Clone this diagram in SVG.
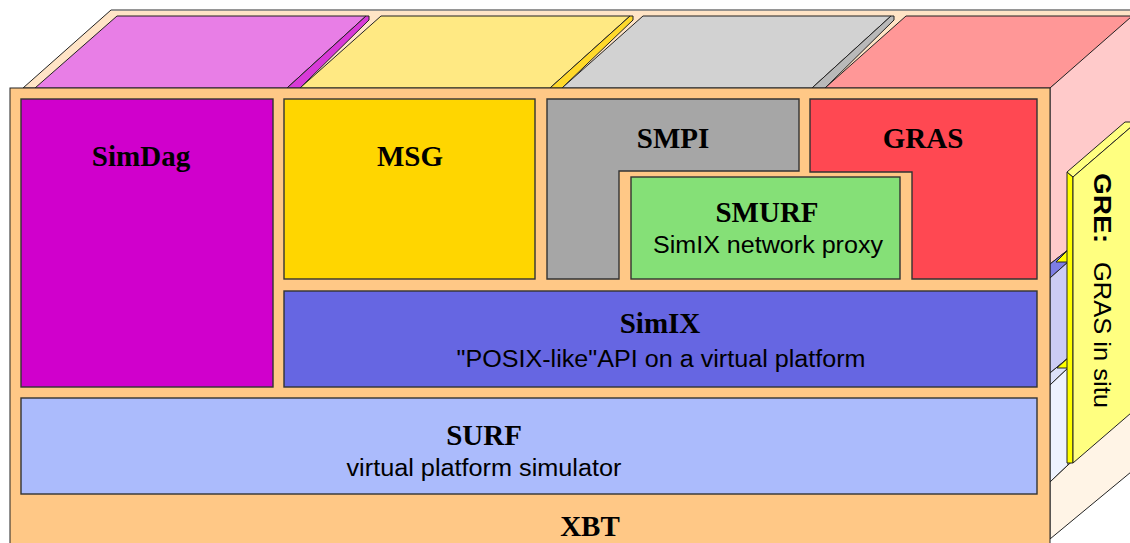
<svg xmlns="http://www.w3.org/2000/svg" width="1130" height="543" viewBox="0 0 1130 543">
  <style>
    .edge { stroke: #222; stroke-width: 1; stroke-linejoin: miter; }
    .box { stroke: #333; stroke-width: 1.4; }
    .title { font-family: "Liberation Serif", "Times New Roman", serif; font-weight: bold; font-size: 29px; fill: #000; text-anchor: middle; }
    .sub { font-family: "Liberation Sans", Arial, sans-serif; font-size: 23px; fill: #000; text-anchor: middle; }
    .gre { font-family: "Liberation Sans", Arial, sans-serif; font-size: 24px; fill: #000; }
  </style>

  <rect width="1130" height="543" fill="#ffffff"/>

  <!-- top of the stack: background slab -->
  <g id="top-face">
    <polygon points="23,88 111,10 1139,10 1050,88" fill="#FFE4C6" class="edge"/>
    <line x1="111" y1="10" x2="1130" y2="10" stroke="#999" stroke-width="1.5"/>
  </g>

  <!-- raised tops of the upper-level columns -->
  <g id="top-simdag">
    <polygon points="35,88 117,16 366,16 287,88" fill="#E87EE6" class="edge"/>
    <polygon points="287,88 366,16 369,16 369,20 300,88" fill="#D83AD8" class="edge"/>
  </g>
  <g id="top-msg">
    <polygon points="300,88 381,16 630,16 550,88" fill="#FFE983" class="edge"/>
    <polygon points="550,88 630,16 633,16 633,20 562,88" fill="#FFD92B" class="edge"/>
  </g>
  <g id="top-smpi">
    <polygon points="562,88 643,16 891,16 812,88" fill="#D2D2D2" class="edge"/>
    <polygon points="812,88 891,16 894,16 894,20 825,88" fill="#B9B9B9" class="edge"/>
  </g>
  <g id="top-gras">
    <polygon points="825,88 906,16 1140,16 1050,88" fill="#FF9797" class="edge"/>
  </g>

  <!-- right-hand side faces of the layers -->
  <g id="side-faces">
    <polygon points="1050,88 1131,17 1131,200 1050,264" fill="#FFCACA" class="edge"/>
    <polygon points="1050,264 1068,250 1068,262 1050,278" fill="#7D7DE4" class="edge"/>
    <polygon points="1050,278 1068,262 1068,358 1050,373" fill="#CCCCF4" class="edge"/>
    <polygon points="1050,373 1068,358 1068,368 1050,385" fill="#DCE1FA" class="edge"/>
    <polygon points="1050,385 1068,368 1068,465 1050,482" fill="#EEF2FF" class="edge"/>
    <polygon points="1050,482 1068,465 1131,410 1131,472 1050,539" fill="#FFF4E6" class="edge"/>
  </g>

  <!-- GRE: upright panel on the side -->
  <g id="gre">
    <polygon points="1056,262 1068,250 1068,262" fill="#FFFF00" class="edge"/>
    <polygon points="1057,368 1068,358 1068,368" fill="#FFFF00" class="edge"/>
    <polygon points="1067,172 1073,177 1073,463 1067,463" fill="#FFFF00" class="edge"/>
    <polygon points="1067,172 1125,122 1131,122 1131,127 1073,177" fill="#FFFF80" class="edge"/>
    <polygon points="1073,177 1131,127 1131,413 1073,463" fill="#FFFF80" class="edge"/>
    <g transform="translate(1094,173) rotate(90)">
      <text class="gre" x="0" y="0" font-weight="bold" textLength="70" lengthAdjust="spacingAndGlyphs">GRE:</text>
      <text class="gre" x="89" y="0" textLength="146" lengthAdjust="spacingAndGlyphs">GRAS in situ</text>
    </g>
  </g>

  <!-- front face: XBT base -->
  <g id="xbt">
    <rect x="10" y="88" width="1040" height="470" fill="#FFC886" class="edge"/>
    <text class="title" x="590" y="536">XBT</text>
  </g>

  <g id="simdag">
    <rect x="21" y="99" width="252" height="288" fill="#D000CC" class="box"/>
    <text class="title" x="141" y="166">SimDag</text>
  </g>

  <g id="msg">
    <rect x="284" y="99" width="251" height="180" fill="#FFD600" class="box"/>
    <text class="title" x="410" y="166">MSG</text>
  </g>

  <g id="smpi">
    <polygon points="547,99 799,99 799,171 619,171 619,279 547,279" fill="#A6A6A6" class="box"/>
    <text class="title" x="673" y="148">SMPI</text>
  </g>

  <g id="gras">
    <polygon points="810,99 1037,99 1037,279 912,279 912,172 810,172" fill="#FF4852" class="box"/>
    <text class="title" x="923" y="148">GRAS</text>
  </g>

  <g id="smurf">
    <rect x="631" y="177" width="269" height="102" fill="#85E077" class="box"/>
    <text class="title" x="767" y="222">SMURF</text>
    <text class="sub" x="768" y="253" textLength="230" lengthAdjust="spacingAndGlyphs">SimIX network proxy</text>
  </g>

  <g id="simix">
    <rect x="284" y="291" width="753" height="96" fill="#6666E2" class="box"/>
    <text class="title" x="660" y="333">SimIX</text>
    <text class="sub" x="661" y="367" textLength="409" lengthAdjust="spacingAndGlyphs">"POSIX-like"API on a virtual platform</text>
  </g>

  <g id="surf">
    <rect x="21" y="398" width="1016" height="96" fill="#ABBBFC" class="box"/>
    <text class="title" x="484" y="445">SURF</text>
    <text class="sub" x="484" y="476" textLength="275" lengthAdjust="spacingAndGlyphs">virtual platform simulator</text>
  </g>

  <!-- no connectors in this layered view -->
  <g id="connectors"/>
</svg>
